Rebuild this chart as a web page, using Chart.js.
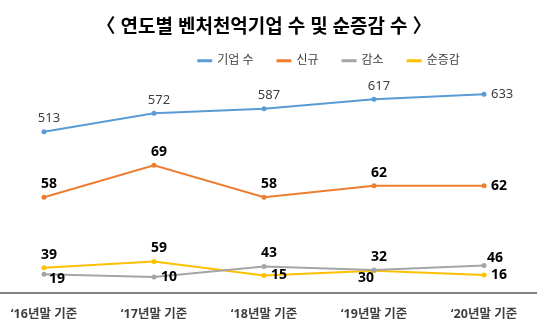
<!DOCTYPE html>
<html lang="ko">
<head>
<meta charset="utf-8">
<script src="https://cdn.jsdelivr.net/npm/chart.js@4"></script>
<style>
  html, body { margin: 0; padding: 0; background: #fff; overflow: hidden; }
  /* canvas is a bit wider than the window: the plot runs off both edges in the original */
  #wrap { position: absolute; left: -15px; top: 0; width: 558px; height: 330px; }
</style>
</head>
<body>
<div id="wrap"><canvas id="chart"></canvas></div>
<script>
// ── Data ─────────────────────────────────────────────────────────────────────
const YEARS     = ['‘16년말 기준', '‘17년말 기준', '‘18년말 기준', '‘19년말 기준', '‘20년말 기준'];
const FIRMS     = [513, 572, 587, 617, 633];   // 기업 수
const NEW_FIRMS = [58, 69, 58, 62, 62];        // 신규
const DROPPED   = [19, 10, 43, 32, 46];        // 감소
const NET       = [39, 59, 15, 30, 16];        // 순증감

// ── Colours / fonts ──────────────────────────────────────────────────────────
const BLUE   = '#5B9BD5';
const ORANGE = '#ED7D31';
const GRAY   = '#A5A5A5';
const YELLOW = '#FFC000';
const FONT   = "'Noto Sans', 'Noto Sans CJK KR', sans-serif";

Chart.defaults.font.family = FONT;
Chart.defaults.color       = '#404040';

// where each value label sits relative to its point
const PLACE = {
  above:      { dx: 5,  dy: -13, align: 'center' },
  right:      { dx: 7,  dy: 0,   align: 'left'   },
  belowRight: { dx: 5,  dy: 5,   align: 'left'   },
  aboveRight: { dx: 3,  dy: -8,  align: 'left'   },
  belowLeft:  { dx: -8, dy: 7,   align: 'center' },
};

// ─ Value labels (no datalabels plugin available) ─────────────────────────────
const valueLabels = {
  id: 'valueLabels',
  afterDatasetsDraw(chart) {
    const ctx = chart.ctx;
    chart.data.datasets.forEach((ds, i) => {
      const meta = chart.getDatasetMeta(i);
      if (meta.hidden) return;
      ctx.save();
      ctx.font = ds.labelFont;
      ctx.fillStyle = ds.labelColor;
      ctx.textBaseline = 'middle';
      meta.data.forEach((pt, j) => {
        const p = PLACE[ds.labelPlace[j]];
        ctx.textAlign = p.align;
        ctx.fillText(String(ds.data[j]), pt.x + p.dx, pt.y + p.dy);
      });
      ctx.restore();
    });
  }
};

// ─ Nudge title / legend boxes to where the original has them ─────────────────
const nudge = {
  id: 'nudge',
  afterLayout(chart) {
    const lg = chart.legend, tt = chart.titleBlock;
    lg.left += 65; lg.right += 65; lg.top -= 6; lg.bottom -= 6;
    tt.top += 2;   tt.bottom += 2;
  }
};

function series(label, data, color, axis, place, labelFont, labelColor) {
  return {
    label, data, yAxisID: axis,
    borderColor: color, backgroundColor: color,
    borderWidth: 2, tension: 0,
    pointRadius: 2.5, pointBackgroundColor: color, pointBorderWidth: 0,
    labelPlace: place, labelFont, labelColor,
  };
}

new Chart(document.getElementById('chart'), {
  type: 'line',
  data: {
    labels: YEARS,
    datasets: [
      series('기업 수', FIRMS,     BLUE,   'yFirms',  ['above','above','above','above','right'],
             `13px ${FONT}`, '#404040'),
      series('신규',    NEW_FIRMS, ORANGE, 'yNew',    ['above','above','above','above','right'],
             `bold 14px ${FONT}`, '#000'),
      series('감소',    DROPPED,   GRAY,   'yChange', ['belowRight','right','above','above','aboveRight'],
             `bold 14px ${FONT}`, '#000'),
      series('순증감',  NET,       YELLOW, 'yChange', ['above','above','right','belowLeft','right'],
             `bold 14px ${FONT}`, '#000'),
    ]
  },
  options: {
    responsive: true,
    maintainAspectRatio: false,
    animation: false,
    devicePixelRatio: 1,
    layout: { padding: 0 },
    plugins: {
      title: {
        display: true,
        text: '〈 연도별 벤처천억기업 수 및 순증감 수 〉',
        color: '#000',
        font: { size: 19, weight: 'bold' },
        padding: { top: 14, bottom: 0 },
      },
      legend: {
        display: true,
        position: 'top',
        labels: { boxWidth: 13, boxHeight: 1, padding: 24, font: { size: 12 }, color: '#404040' }
      },
      tooltip: { enabled: false },
    },
    scales: {
      x: {
        offset: true,
        grid: { display: false, drawTicks: false },
        border: { display: true, color: '#808080', width: 2 },
        ticks: { padding: 14, color: '#404040', font: { size: 12.5, weight: 'bold' } },
        afterFit: (scale) => { scale.height = 37; },
      },
      // each series sits on its own hidden axis, as in the original
      yFirms:  { display: false, min: -4.5,  max: 669.9 },
      yNew:    { display: false, min: 25.2,  max: 97.26 },
      yChange: { display: false, min: -40.2, max: 619.8 },
    }
  },
  plugins: [valueLabels, nudge]
});
</script>
</body>
</html>
